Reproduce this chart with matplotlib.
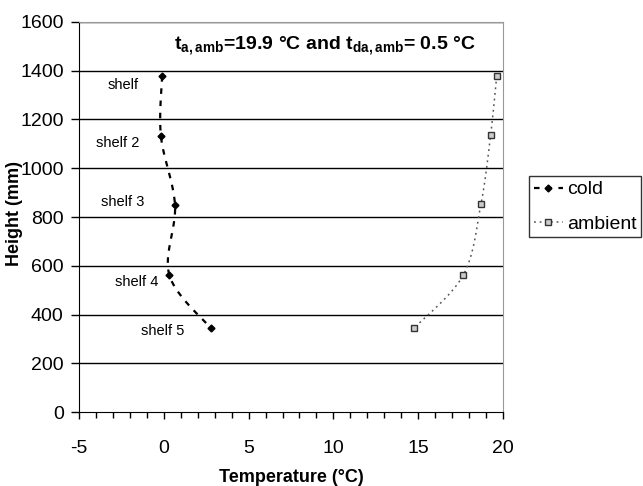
import numpy as np
import matplotlib
matplotlib.use('Agg')
import matplotlib.pyplot as plt
from matplotlib.ticker import MultipleLocator

plt.rcParams['font.family'] = ['Liberation Sans', 'DejaVu Sans']
plt.rcParams['axes.unicode_minus'] = False
plt.rcParams['mathtext.fontset'] = 'custom'
plt.rcParams['mathtext.rm'] = 'Liberation Sans'
plt.rcParams['mathtext.bf'] = 'Liberation Sans:bold'

# data
height = [1378, 1132, 849, 561, 343]
cold = [-0.1, -0.17, 0.66, 0.33, 2.78]
amb_height = [1378, 1136, 853, 562, 345]
ambient = [19.63, 19.27, 18.7, 17.66, 14.77]
shelf_labels = ['shelf', 'shelf 2', 'shelf 3', 'shelf 4', 'shelf 5']
label_x = [-2.4, -2.7, -2.4, -1.58, -0.05]
label_y = [1341, 1104, 862, 533, 332]


def smooth(x, y, n=30):
    # catmull-rom curve through the points, like excel's smoothed line
    p = np.column_stack([x, y]).astype(float)
    p = np.vstack([p[0], p, p[-1]])
    out = []
    for i in range(1, len(p) - 2):
        p0, p1, p2, p3 = p[i - 1], p[i], p[i + 1], p[i + 2]
        t = np.linspace(0, 1, n)[:, None]
        c = 0.5 * ((2 * p1) + (-p0 + p2) * t + (2 * p0 - 5 * p1 + 4 * p2 - p3) * t ** 2
                   + (-p0 + 3 * p1 - 3 * p2 + p3) * t ** 3)
        out.append(c)
    c = np.vstack(out)
    return c[:, 0], c[:, 1]


fig = plt.figure(figsize=(6.43, 4.86), dpi=100)
ax = fig.add_axes([79 / 643, 1 - 412 / 486, (503 - 79) / 643, (412 - 22) / 486])

for h in range(200, 1601, 200):
    ax.axhline(h, color='black', lw=1.0, zorder=1)

sx, sy = smooth(cold, height)
ax.plot(sx, sy, color='black', ls=(0, (2.5, 3)), lw=1.6, zorder=2)
ax.plot(cold, height, ls='none', marker='D', ms=3.5, color='black', zorder=3)

sx, sy = smooth(ambient, amb_height)
ax.plot(sx, sy, color='#555555', ls=(0, (1.2, 2.5)), lw=1.1, zorder=2)
ax.plot(ambient, amb_height, ls='none', marker='s', ms=4.5, mfc='#cccccc',
        mec='#333333', mew=1.0, zorder=3)

# legend proxies
ax.plot([], [], color='black', ls=(0, (2.5, 3)), lw=1.6, marker='D', ms=3.5, label='cold')
ax.plot([], [], color='#555555', ls=(0, (1.2, 2.5)), lw=1.1, marker='s', ms=4,
        mfc='#cccccc', mec='#333333', label='ambient')

for lab, x, y in zip(shelf_labels, label_x, label_y):
    ax.text(x, y, lab, fontsize=10.5, ha='center', va='center')

ax.text(9.5, 1505, r'$\mathbf{t_{a,amb}}$=19.9 °C and $\mathbf{t_{da,amb}}$= 0.5 °C',
        fontsize=14, fontweight='bold', ha='center', va='center')

ax.set_xlim(-5, 20)
ax.set_ylim(0, 1600)
ax.xaxis.set_major_locator(MultipleLocator(5))
ax.xaxis.set_minor_locator(MultipleLocator(1))
ax.yaxis.set_major_locator(MultipleLocator(200))
ax.tick_params(axis='x', which='major', length=5, width=1, labelsize=14, pad=15)
ax.tick_params(axis='x', which='minor', length=4, width=1)
ax.tick_params(axis='y', which='major', length=6, width=1, labelsize=14, pad=5)

ax.spines['left'].set_color('black')
ax.spines['bottom'].set_color('black')
ax.spines['top'].set_color('#999999')
ax.spines['right'].set_color('#999999')

ax.set_xlabel('Temperature (°C)', fontsize=13, fontweight='bold', labelpad=9)
ax.set_ylabel('Height (mm)', fontsize=13, fontweight='bold')
ax.yaxis.set_label_coords(-56 / 424, 0.51)

leg = fig.legend(loc='upper left', bbox_to_anchor=(529 / 643, 1 - 176 / 486),
                 fontsize=14, frameon=True, fancybox=False, edgecolor='black',
                 handlelength=1.5, handletextpad=0.2, borderpad=0.25,
                 labelspacing=0.85, borderaxespad=0)
leg.get_frame().set_linewidth(1.0)

fig.savefig('out.png', dpi=100)
